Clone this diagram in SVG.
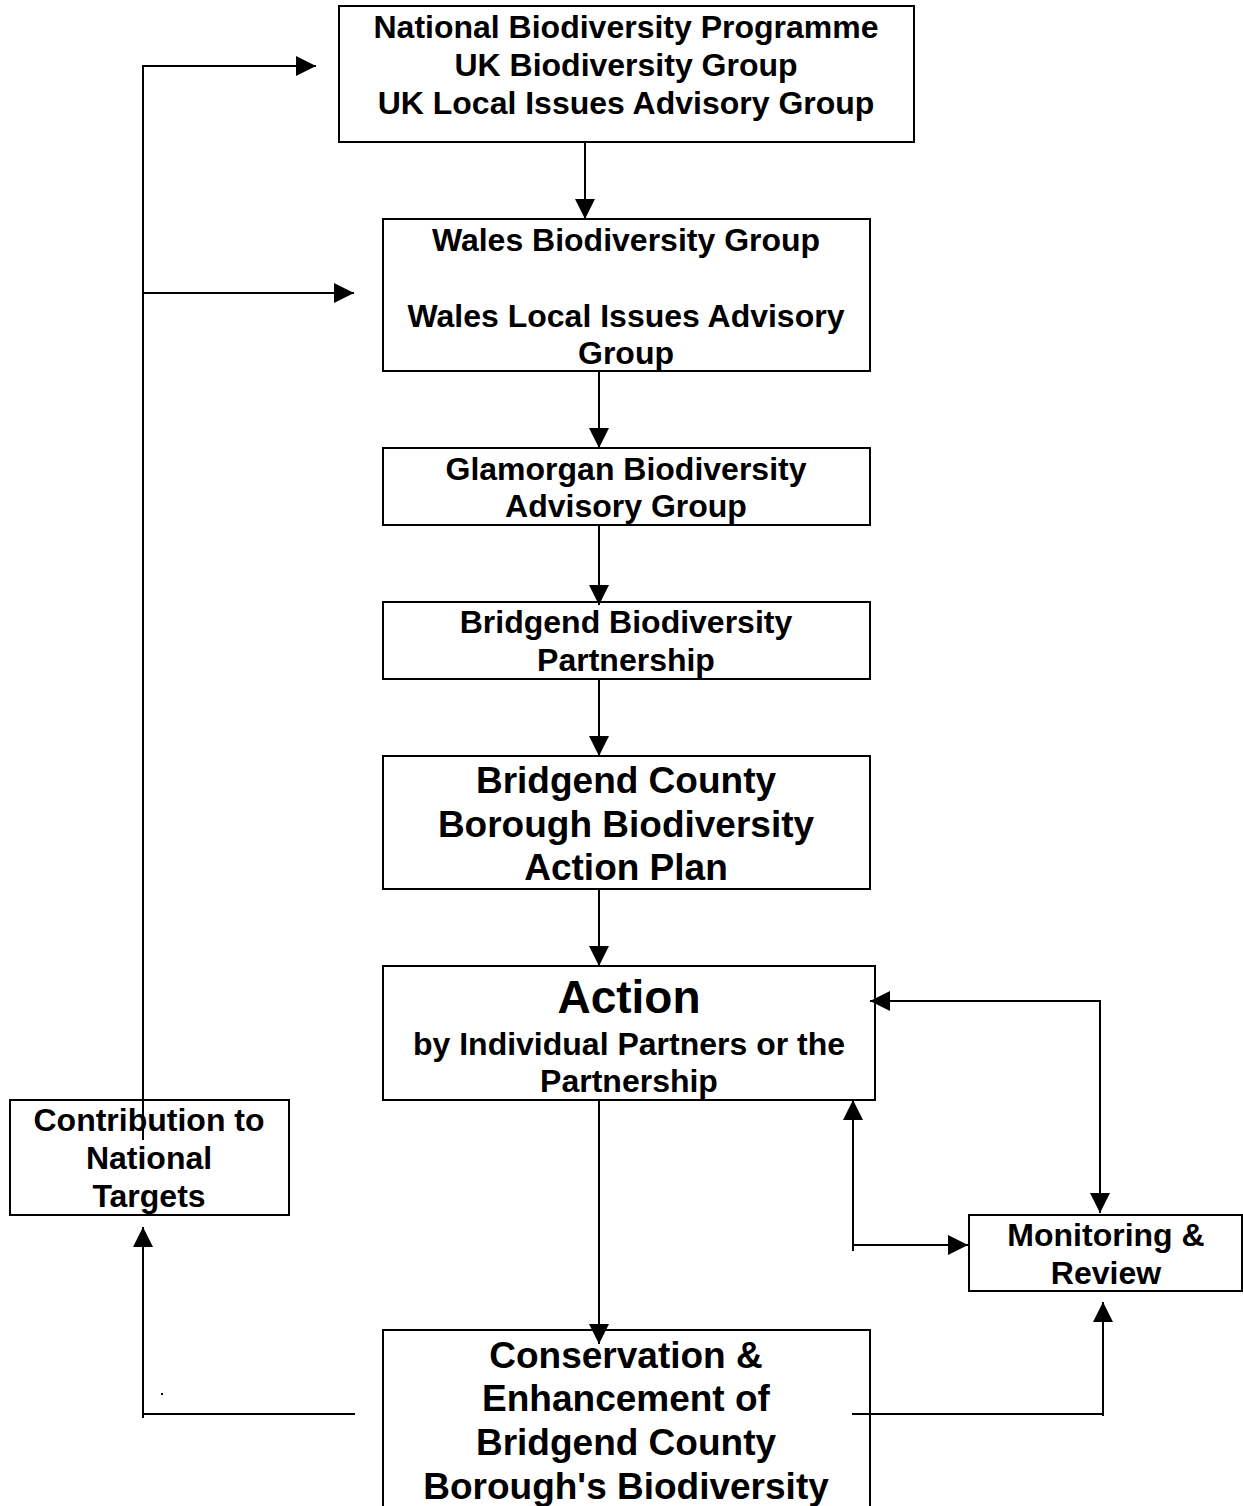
<svg xmlns="http://www.w3.org/2000/svg" width="1243" height="1506" viewBox="0 0 1243 1506">
<style>
.box{fill:#fff;stroke:#000;stroke-width:2}
.t{font-family:"Liberation Sans",Arial,sans-serif;font-weight:bold;font-size:32px;text-anchor:middle;fill:#000}
.l{font-size:37px}
.xl{font-size:46px}
.c{fill:none;stroke:#000;stroke-width:2}
</style>
<defs>
<marker id="ah" markerUnits="userSpaceOnUse" markerWidth="20" markerHeight="20" refX="20" refY="10" orient="auto">
<path d="M0,0 L20,10 L0,20 z" fill="#000"/>
</marker>
</defs>
<rect width="1243" height="1506" fill="#fff"/>
<g id="n1"><rect class="box" x="339" y="6" width="575" height="136"/>
<text class="t" x="626" y="38">National Biodiversity Programme</text>
<text class="t" x="626" y="76">UK Biodiversity Group</text>
<text class="t" x="626" y="114">UK Local Issues Advisory Group</text></g>
<g id="n2"><rect class="box" x="383" y="219" width="487" height="152"/>
<text class="t" x="626" y="251">Wales Biodiversity Group</text>
<text class="t" x="626" y="327">Wales Local Issues Advisory</text>
<text class="t" x="626" y="364">Group</text></g>
<g id="n3"><rect class="box" x="383" y="448" width="487" height="77"/>
<text class="t" x="626" y="480">Glamorgan Biodiversity</text>
<text class="t" x="626" y="517">Advisory Group</text></g>
<g id="n4"><rect class="box" x="383" y="602" width="487" height="77"/>
<text class="t" x="626" y="633">Bridgend Biodiversity</text>
<text class="t" x="626" y="671">Partnership</text></g>
<g id="n5"><rect class="box" x="383" y="756" width="487" height="133"/>
<text class="t l" x="626" y="793">Bridgend County</text>
<text class="t l" x="626" y="837">Borough Biodiversity</text>
<text class="t l" x="626" y="880">Action Plan</text></g>
<g id="n6"><rect class="box" x="383" y="966" width="492" height="134"/>
<text class="t xl" x="629" y="1013">Action</text>
<text class="t" x="629" y="1055">by Individual Partners or the</text>
<text class="t" x="629" y="1092">Partnership</text></g>
<g id="n7"><rect class="box" x="383" y="1330" width="487" height="200"/>
<text class="t l" x="626" y="1368">Conservation &amp;</text>
<text class="t l" x="626" y="1411">Enhancement of</text>
<text class="t l" x="626" y="1455">Bridgend County</text>
<text class="t l" x="626" y="1499">Borough's Biodiversity</text></g>
<g id="n8"><rect class="box" x="10" y="1100" width="279" height="115"/>
<text class="t" x="149" y="1131">Contribution to</text>
<text class="t" x="149" y="1169">National</text>
<text class="t" x="149" y="1207">Targets</text></g>
<g id="n9"><rect class="box" x="969" y="1215" width="273" height="76"/>
<text class="t" x="1106" y="1246">Monitoring &amp;</text>
<text class="t" x="1106" y="1284">Review</text></g>
<g id="connectors">
<line class="c" x1="585" y1="142" x2="585" y2="219" marker-end="url(#ah)"/>
<line class="c" x1="599" y1="371" x2="599" y2="448" marker-end="url(#ah)"/>
<line class="c" x1="599" y1="525" x2="599" y2="605" marker-end="url(#ah)"/>
<line class="c" x1="599" y1="679" x2="599" y2="756" marker-end="url(#ah)"/>
<line class="c" x1="599" y1="889" x2="599" y2="966" marker-end="url(#ah)"/>
<line class="c" x1="599" y1="1100" x2="599" y2="1344" marker-end="url(#ah)"/>
<path class="c" d="M143,1140 V66 H316" marker-end="url(#ah)"/>
<line class="c" x1="143" y1="293" x2="354" y2="293" marker-end="url(#ah)"/>
<line class="c" x1="143" y1="1414" x2="355" y2="1414"/>
<line class="c" x1="143" y1="1418" x2="143" y2="1227" marker-end="url(#ah)"/>
<rect x="161" y="1393" width="2" height="2" fill="#000"/>
<line class="c" x1="852" y1="1414" x2="1103" y2="1414"/>
<line class="c" x1="1103" y1="1416" x2="1103" y2="1302" marker-end="url(#ah)"/>
<path class="c" d="M1100,1001 H870" marker-end="url(#ah)"/>
<path class="c" d="M1100,1000 V1213" marker-end="url(#ah)"/>
<line class="c" x1="853" y1="1251" x2="853" y2="1100" marker-end="url(#ah)"/>
<line class="c" x1="853" y1="1245" x2="968" y2="1245" marker-end="url(#ah)"/>
</g>
</svg>
